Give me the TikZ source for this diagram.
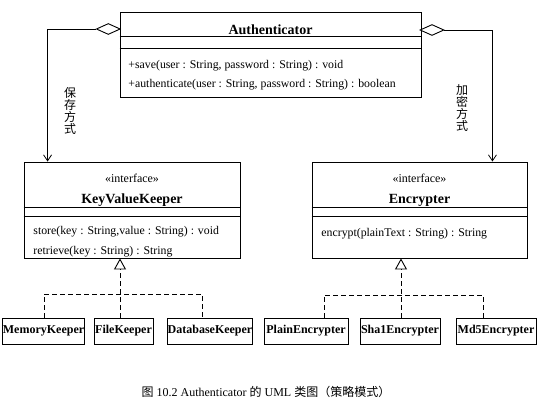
\documentclass[tikz,border=0pt]{standalone}
\usepackage{fontspec}
\setmainfont{Liberation Serif}
\newfontfamily\cjk{Noto Sans CJK SC}
\usetikzlibrary{arrows.meta,shapes.geometric}
\begin{document}
\begin{tikzpicture}[x=1pt,y=-1pt,
  line width=0.9pt,
  classbox/.style={draw,rectangle,inner sep=0pt},
  leaf/.style={draw,rectangle,inner sep=0pt,minimum height=26pt,font=\fontsize{12}{14}\selectfont\bfseries},
  ttl/.style={inner sep=0pt,font=\fontsize{14}{16}\selectfont\bfseries},
  txt/.style={inner sep=0pt,anchor=base west,font=\fontsize{11.8}{13}\selectfont},
  stereo/.style={inner sep=0pt,font=\fontsize{12}{14}\selectfont},
  agg/.style={draw,diamond,fill=white,inner sep=0pt,minimum width=24pt,minimum height=11pt},
  vlab/.style={inner sep=0pt,align=center,font=\cjk\fontsize{12}{12}\selectfont},
  nav/.style={-{Straight Barb[length=6pt,width=8pt,line width=0.8pt]}},
  real/.style={dash pattern=on 5pt off 3pt},
  realtip/.style={real,-{Triangle[open,length=11pt,width=12pt,line width=0.9pt]}}
]
\useasboundingbox (0,0) rectangle (542,415);

% Authenticator
\node[classbox,minimum width=301pt,minimum height=85pt] (auth) at (270.5,54.5) {};
\draw (auth.west |- 0,36) -- (auth.east |- 0,36);
\draw (auth.west |- 0,48) -- (auth.east |- 0,48);
\node[ttl] (authT) at (270.5,30) {Authenticator};
\node[txt] (m1) at (128,68.5) {+save(user : String, password : String) : void};
\node[txt] (m2) at (128,88) {+authenticate(user : String, password : String) : boolean};

% KeyValueKeeper
\node[classbox,minimum width=216pt,minimum height=96pt] (kvk) at (132,210) {};
\draw (kvk.west |- 0,207) -- (kvk.east |- 0,207);
\draw (kvk.west |- 0,216) -- (kvk.east |- 0,216);
\node[stereo] (kvkS) at (132,178.5) {«interface»};
\node[ttl] (kvkT) at (132,200.5) {KeyValueKeeper};
\node[txt] (k1) at (33,234) {store(key : String,value : String) : void};
\node[txt] (k2) at (33,254) {retrieve(key : String) : String};

% Encrypter
\node[classbox,minimum width=215pt,minimum height=96pt] (enc) at (419.5,210) {};
\draw (enc.west |- 0,207) -- (enc.east |- 0,207);
\draw (enc.west |- 0,216) -- (enc.east |- 0,216);
\node[stereo] (encS) at (419.5,178.5) {«interface»};
\node[ttl] (encT) at (419.5,200.5) {Encrypter};
\node[txt] (e1) at (321,236) {encrypt(plainText : String) : String};

% aggregations
\node[agg] (dl) at (108.3,29) {};
\node[agg] (dr) at (432,30) {};
\draw[nav] (dl.west) -| ([xshift=24pt]kvk.north west);
\draw[nav] (dr.east) -| ([xshift=-35pt]enc.north east);
\node[vlab] (lab1) at (70,111) {保\\存\\方\\式};
\node[vlab] (lab2) at (462,108.5) {加\\密\\方\\式};

% implementations
\node[leaf,minimum width=81pt] (mk) at (43.5,331) {MemoryKeeper};
\node[leaf,minimum width=59pt] (fk) at (123.5,331) {FileKeeper};
\node[leaf,minimum width=84pt] (dbk) at (210,331) {DatabaseKeeper};
\node[leaf,minimum width=84pt] (pe) at (306,331) {PlainEncrypter};
\node[leaf,minimum width=80pt] (se) at (400,331) {Sha1Encrypter};
\node[leaf,minimum width=80pt] (me) at (496,331) {Md5Encrypter};

\coordinate (kt) at ([xshift=-12pt]kvk.south);
\coordinate (et) at ([xshift=-18.5pt]enc.south);
\draw[realtip] (fk.north -| kt) -- (kt);
\draw[real] ([xshift=0.5pt]mk.north) |- ([xshift=-8pt]dbk.north |- 0,294) -- ([xshift=-8pt]dbk.north);
\draw[realtip] (se.north -| et) -- (et);
\draw[real] ([xshift=18pt]pe.north) |- ([xshift=-13pt]me.north |- 0,295) -- ([xshift=-13pt]me.north);

% caption
\node[inner sep=0pt,font=\fontsize{12}{14}\selectfont] (cap) at (266,392) {{\cjk 图} 10.2 Authenticator {\cjk 的} UML {\cjk 类图（策略模式）}};
\end{tikzpicture}
\end{document}
